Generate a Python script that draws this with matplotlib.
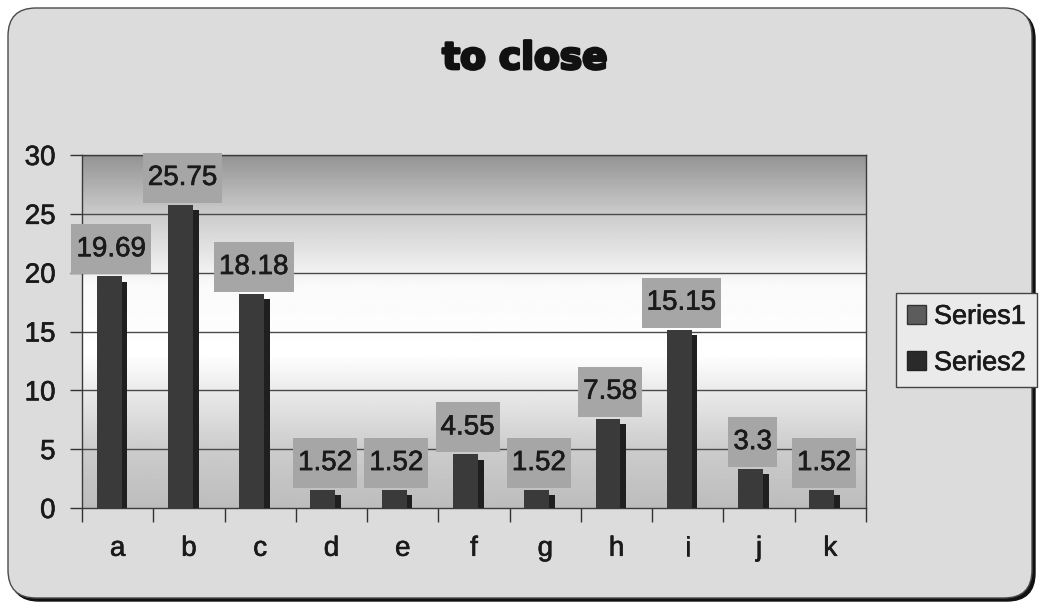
import numpy as np
import matplotlib
matplotlib.use('Agg')
import matplotlib.pyplot as plt
import matplotlib.patheffects as pe
from matplotlib.patches import FancyBboxPatch, Patch, Rectangle

categories = ['a', 'b', 'c', 'd', 'e', 'f', 'g', 'h', 'i', 'j', 'k']
series1 = [19.69, 25.75, 18.18, 1.52, 1.52, 4.55, 1.52, 7.58, 15.15, 3.3, 1.52]
series2 = [0, 0, 0, 0, 0, 0, 0, 0, 0, 0, 0]
value_labels = ['19.69', '25.75', '18.18', '1.52', '1.52', '4.55', '1.52', '7.58', '15.15', '3.3', '1.52']
y_ticks = [0, 5, 10, 15, 20, 25, 30]
title = 'to close'
series_names = ['Series1', 'Series2']

W, H = 1039, 608
plt.rcParams['font.family'] = ['Liberation Sans', 'DejaVu Sans']
ink = '#1a1a1a'
thick = [pe.withStroke(linewidth=0.45, foreground=ink)]

fig = plt.figure(figsize=(W / 100, H / 100), dpi=100)
fig.patch.set_facecolor('white')

# page background with the rounded chart border (pixel coords)
bg = fig.add_axes([0, 0, 1, 1], zorder=0)
bg.set_xlim(0, W)
bg.set_ylim(H, 0)
bg.axis('off')
shadow = FancyBboxPatch((11, 11), 1024, 590, boxstyle='round,pad=0,rounding_size=28',
                        facecolor='#111111', edgecolor='#111111', lw=1)
bg.add_patch(shadow)
frame = FancyBboxPatch((8, 8), 1024, 590, boxstyle='round,pad=0,rounding_size=28',
                       facecolor='#dcdcdc', edgecolor='#4a4a4a', lw=1)
bg.add_patch(frame)
bg.text(525, 59, title, ha='center', va='center', fontsize=27, fontweight='heavy',
        family='DejaVu Sans', color='#111111',
        path_effects=[pe.withStroke(linewidth=2, foreground='#111111')])

# plot area
ax = fig.add_axes([82 / W, 100 / H, 784 / W, 353 / H], zorder=1)
n = len(categories)
x = np.arange(n)
ax.set_xlim(0, n)
ax.set_ylim(0, 30)

# shaded plot-area fill
yy = np.linspace(0, 30, 300)
shade = np.interp(yy, [0, 5, 10, 13, 19, 25, 30], [0.74, 0.80, 0.92, 1.0, 0.98, 0.80, 0.58])
ax.imshow(shade[:, None], extent=[0, n, 0, 30], origin='lower', aspect='auto',
          cmap='gray', vmin=0, vmax=1, zorder=0)

for yv in y_ticks[1:]:
    ax.axhline(yv, color='#4a4a4a', lw=1, zorder=1)

# 3-d looking columns: front face plus darker side face
ax.bar(x + 0.38, series1, width=0.35, color='#3a3a3a', zorder=3)
ax.bar(x + 0.595, np.array(series1) - 0.45, width=0.08, color='#1f1f1f', zorder=2.9)
ax.bar(x + 0.38, series2, width=0.35, color='#2a2a2a', zorder=3)

labels = []
for xi, v, lab in zip(x, series1, value_labels):
    t = ax.text(xi + 0.41, v + 2.3, lab, ha='center', va='center', fontsize=20, color=ink,
                zorder=5, path_effects=thick)
    labels.append(t)

ax.set_yticks(y_ticks)
ax.set_xticks(np.arange(n + 1))
ax.set_xticklabels([])
ax.set_xticks(x + 0.5, minor=True)
ax.set_xticklabels(categories, minor=True)
ax.tick_params(axis='y', direction='out', length=9, width=1, pad=10, labelsize=20,
               colors='#333333', labelcolor=ink)
ax.tick_params(axis='x', which='major', direction='out', length=10, width=1, colors='#333333')
ax.tick_params(axis='x', which='minor', length=0, pad=20, labelsize=20, labelcolor=ink)
for t in ax.get_yticklabels() + ax.get_xticklabels(minor=True):
    t.set_path_effects(thick)
for s in ax.spines.values():
    s.set_color('#3a3a3a')
    s.set_linewidth(1)

# grey label boxes: text width + small side margin, fixed 50 px height
fig.canvas.draw()
r = fig.canvas.get_renderer()
inv = ax.transData.inverted()
for t in labels:
    bb = t.get_window_extent(r)
    cx, cy = ax.transData.transform(t.get_position())
    (x0, y0), (x1, y1) = inv.transform([(bb.x0 - 5, cy - 25), (bb.x1 + 5, cy + 25)])
    ax.add_patch(Rectangle((x0, y0), x1 - x0, y1 - y0, facecolor='#a6a6a6',
                           edgecolor='none', zorder=4.5, clip_on=False))

handles = [Patch(facecolor='#5c5c5c', edgecolor='#333333'),
           Patch(facecolor='#2a2a2a', edgecolor='#222222')]
leg = fig.legend(handles, series_names, loc='upper left', bbox_to_anchor=(896 / W, 1 - 293 / H),
                 fontsize=19.5, frameon=True, fancybox=False, edgecolor='#444444',
                 facecolor='#eaeaea', framealpha=1, handlelength=0.7, handleheight=0.7,
                 handletextpad=0.3, labelspacing=0.75, borderpad=0.4, borderaxespad=0)
for t in leg.get_texts():
    t.set_color(ink)
    t.set_path_effects(thick)
leg.set_zorder(5)

fig.savefig('out.png', dpi=100)
